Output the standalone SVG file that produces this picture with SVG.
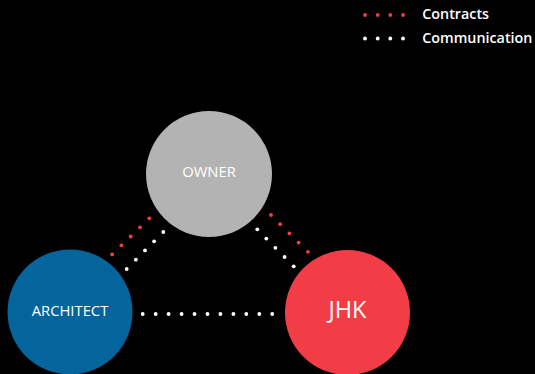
<svg xmlns="http://www.w3.org/2000/svg" width="535" height="374" viewBox="0 0 535 374">
<style>
text{font-family:"Open Sans","Noto Sans","DejaVu Sans",sans-serif;fill:#ffffff}
.lbl{font-size:14.8px;text-anchor:middle}
.leg{font-size:14.3px;font-weight:600}
.r{fill:#f23d46}
.w{fill:#ffffff}
</style>
<rect width="535" height="374" fill="#000000"/>
<g id="legend">
<g class="r"><circle cx="365" cy="15" r="1.9"/><circle cx="377.7" cy="15" r="1.9"/><circle cx="390.3" cy="15" r="1.9"/><circle cx="403" cy="15" r="1.9"/></g>
<text class="leg" x="422.3" y="19.3">Contracts</text>
<g class="w"><circle cx="365" cy="38.5" r="1.9"/><circle cx="377.7" cy="38.5" r="1.9"/><circle cx="390.3" cy="38.5" r="1.9"/><circle cx="403" cy="38.5" r="1.9"/></g>
<text class="leg" x="422.3" y="43.3">Communication</text>
</g>
<g id="connectors">
<g class="r">
<circle cx="149.3" cy="218.3" r="1.9"/><circle cx="140" cy="227.3" r="1.9"/><circle cx="130.7" cy="236.5" r="1.9"/><circle cx="121.4" cy="245.4" r="1.9"/><circle cx="112.2" cy="254.4" r="1.9"/>
<circle cx="271" cy="215" r="1.9"/><circle cx="280.2" cy="224.2" r="1.9"/><circle cx="289.4" cy="233.4" r="1.9"/><circle cx="298.6" cy="242.6" r="1.9"/><circle cx="307.9" cy="251.8" r="1.9"/>
</g>
<g class="w">
<circle cx="163.3" cy="232" r="1.9"/><circle cx="154.1" cy="241.3" r="1.9"/><circle cx="145" cy="250.4" r="1.9"/><circle cx="135.9" cy="259.7" r="1.9"/><circle cx="126.7" cy="269" r="1.9"/>
<circle cx="257.3" cy="229.3" r="1.9"/><circle cx="266.3" cy="238.6" r="1.9"/><circle cx="275.4" cy="247.8" r="1.9"/><circle cx="284.6" cy="257" r="1.9"/><circle cx="293.7" cy="266.3" r="1.9"/>
<circle cx="142.7" cy="314" r="1.9"/><circle cx="155.7" cy="314" r="1.9"/><circle cx="168.6" cy="314" r="1.9"/><circle cx="181.6" cy="314" r="1.9"/><circle cx="194.5" cy="314" r="1.9"/><circle cx="207.5" cy="314" r="1.9"/><circle cx="220.4" cy="314" r="1.9"/><circle cx="233.4" cy="314" r="1.9"/><circle cx="246.3" cy="314" r="1.9"/><circle cx="259.3" cy="314" r="1.9"/><circle cx="272.2" cy="314" r="1.9"/>
</g>
</g>
<g id="owner">
<circle cx="209" cy="174" r="63" fill="#b3b3b3"/>
<text class="lbl" x="209" y="177.3">OWNER</text>
</g>
<g id="architect">
<circle cx="70" cy="312" r="62.5" fill="#03659b"/>
<text class="lbl" x="70" y="316.2">ARCHITECT</text>
</g>
<g id="jhk">
<circle cx="347.5" cy="312.5" r="62.5" fill="#f23d46"/>
<text class="lbl" x="347.5" y="318.3" style="font-size:23.5px">JHK</text>
</g>
</svg>
